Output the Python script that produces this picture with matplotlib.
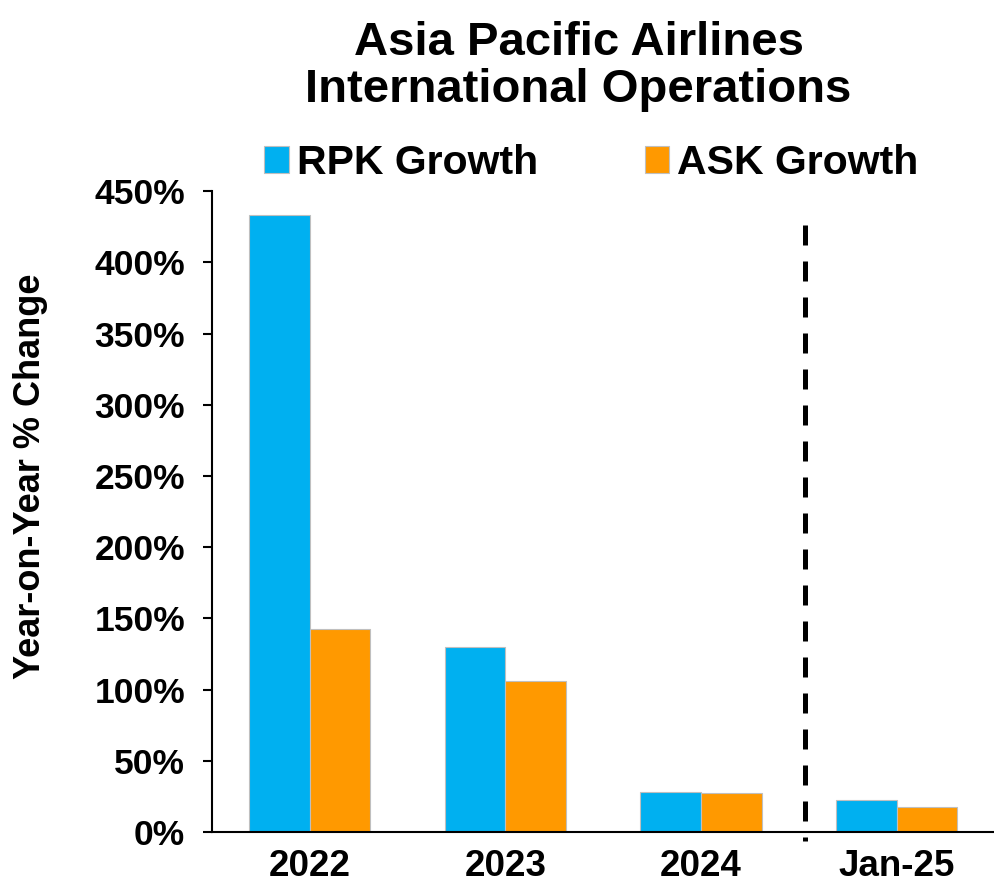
import numpy as np
import matplotlib.pyplot as plt
from matplotlib.ticker import FuncFormatter

categories = ["2022", "2023", "2024", "Jan-25"]
rpk_growth = [433, 130, 28, 22.5]
ask_growth = [142.5, 106, 27.5, 17.5]

plt.rcParams['font.family'] = ['Liberation Sans', 'DejaVu Sans']
plt.rcParams['font.weight'] = 'bold'

fig = plt.figure(figsize=(9.94, 8.89), dpi=100)
ax = fig.add_axes([0.2133, 0.064, 0.787, 0.721])

x = np.arange(len(categories))
w = 0.31
ax.bar(x - w / 2, rpk_growth, w, color="#00B0F0", edgecolor="#BFBFBF", linewidth=0.8, label="RPK Growth")
ax.bar(x + w / 2, ask_growth, w, color="#FF9900", edgecolor="#BFBFBF", linewidth=0.8, label="ASK Growth")

# dashed separator between annual and monthly data
ax.plot([2.53, 2.53], [426, -6], color="black", linestyle=(0, (4, 3.2)), linewidth=3.6, clip_on=False)

ax.set_xlim(-0.5, 3.5)
ax.set_ylim(0, 450)
ax.set_yticks(np.arange(0, 451, 50))
ax.yaxis.set_major_formatter(FuncFormatter(lambda v, p: f"{v:.0f}%"))
ax.set_xticks(x)
ax.set_xticklabels(categories)
ax.tick_params(axis='y', labelsize=25.5, length=6.5, width=1.5, direction='out', pad=13)
ax.tick_params(axis='x', labelsize=26.5, length=0, pad=12)
for lab in ax.get_xticklabels() + ax.get_yticklabels():
    lab.set_fontweight('bold')

for s in ["top", "right"]:
    ax.spines[s].set_visible(False)
ax.spines["left"].set_linewidth(1.5)
ax.spines["bottom"].set_linewidth(1.5)

ax.set_ylabel("Year-on-Year % Change", fontsize=26, fontweight='bold')
ax.yaxis.set_label_coords(-0.21, 0.555)

fig.suptitle("Asia Pacific Airlines\nInternational Operations", fontsize=34, fontweight='bold',
             x=0.582, y=0.976, linespacing=1.08)

ax.legend(loc="center", bbox_to_anchor=(0.485, 1.044), ncol=2, frameon=False,
          handlelength=0.6, handleheight=0.62, handletextpad=0.2, columnspacing=2.6,
          prop={'weight': 'bold', 'size': 29.5})

fig.savefig("out.png", dpi=100)
